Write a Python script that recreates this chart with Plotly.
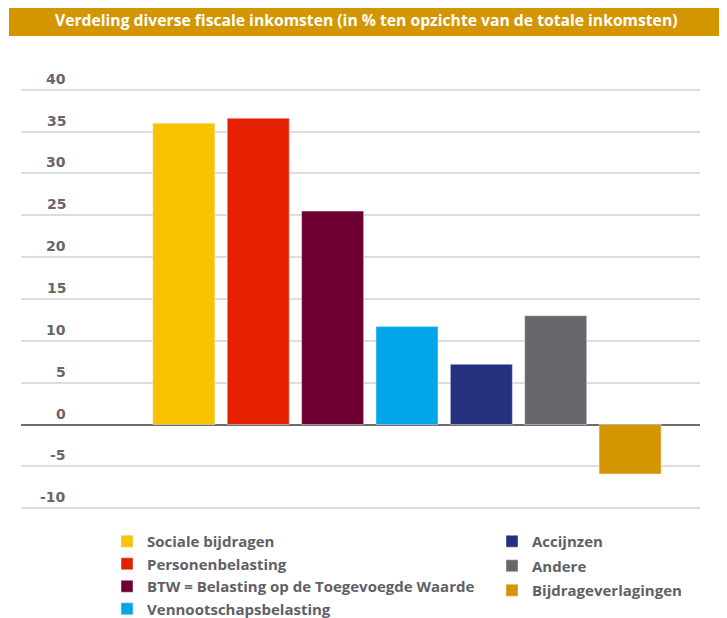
import plotly.graph_objects as go

categories = [
    "Sociale bijdragen",
    "Personenbelasting",
    "BTW = Belasting op de Toegevoegde Waarde",
    "Vennootschapsbelasting",
    "Accijnzen",
    "Andere",
    "Bijdrageverlagingen",
]
values = [36.0, 36.6, 25.5, 11.7, 7.2, 13.0, -5.9]
colors = ["#f9c300", "#e52000", "#6d0030", "#00a6e8", "#23317f", "#67666b", "#d39600"]
legend_col = ["legend", "legend", "legend", "legend", "legend2", "legend2", "legend2"]
y_ticks = [40, 35, 30, 25, 20, 15, 10, 5, 0, -5, -10]
title_text = "Verdeling diverse fiscale inkomsten (in % ten opzichte van de totale inkomsten)"

LABEL_COLOR = "#67666b"
TEXT_FONT = "Open Sans, Roboto, sans-serif"

fig = go.Figure()
for name, val, col, leg in zip(categories, values, colors, legend_col):
    fig.add_trace(go.Bar(
        x=[name],
        y=[val],
        name=name,
        marker_color=col,
        width=0.834,
        legend=leg,
        legendgroup=name,
    ))

# y tick labels sit above the gridlines, right aligned
for t in y_ticks:
    fig.add_annotation(
        x=0.0695, xref="paper", xanchor="right",
        y=t, yref="y", yanchor="bottom", yshift=1,
        text=str(t), showarrow=False,
        font=dict(family="DejaVu Sans, sans-serif", size=14, color=LABEL_COLOR, weight="bold"),
    )

# title band
fig.add_shape(
    type="rect", xref="paper", yref="paper",
    x0=-0.0177, x1=1.0368, y0=1.0819, y1=1.16,
    fillcolor="#d39600", line_width=0, layer="below",
)
fig.add_annotation(
    x=0.5088, xref="paper", xanchor="center",
    y=1.117, yref="paper", yanchor="middle",
    text="<b>" + title_text + "</b>", showarrow=False,
    font=dict(family=TEXT_FONT, size=15.7, color="white"),
)

legend_style = dict(
    orientation="v",
    yanchor="top", y=0.0, xanchor="left",
    font=dict(family=TEXT_FONT, size=15, color="#606066", weight="bold"),
    bgcolor="rgba(0,0,0,0)",
    traceorder="grouped",
)

fig.update_layout(
    width=727,
    height=618,
    margin=dict(l=13, r=35, t=65, b=101, autoexpand=False),
    plot_bgcolor="white",
    paper_bgcolor="white",
    barmode="relative",
    showlegend=True,
    legend=dict(x=0.1267, tracegroupgap=0, **legend_style),
    legend2=dict(x=0.6937, tracegroupgap=2, **legend_style),
    xaxis=dict(
        categoryorder="array",
        categoryarray=categories,
        range=[-2.19, 6.94],
        showticklabels=False,
        showgrid=False,
        zeroline=False,
        showline=False,
        ticks="",
    ),
    yaxis=dict(
        range=[-12, 42],
        tickvals=y_ticks,
        showticklabels=False,
        showgrid=True,
        gridcolor="#dddddd",
        gridwidth=2,
        zeroline=True,
        zerolinecolor="#6b6b70",
        zerolinewidth=2,
        showline=False,
        ticks="",
    ),
)

fig.write_html("out.html")
